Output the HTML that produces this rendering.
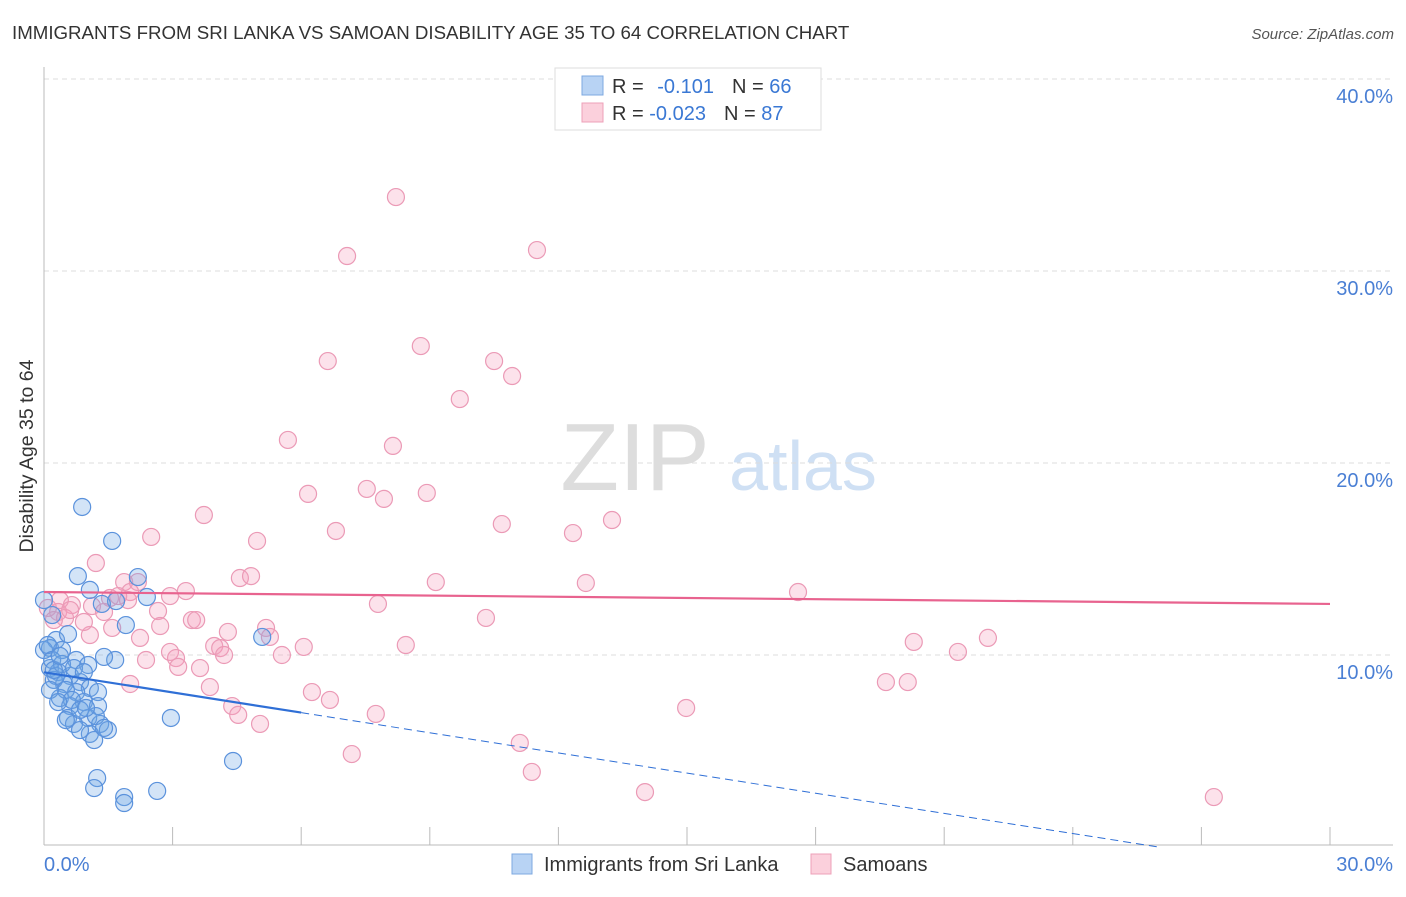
<!DOCTYPE html>
<html><head><meta charset="utf-8"><style>
body{margin:0;background:#fff;font-family:"Liberation Sans",sans-serif}
svg text{font-family:"Liberation Sans",sans-serif}
</style></head><body>
<svg id="chart" width="1406" height="892" xmlns="http://www.w3.org/2000/svg">
<text x="12" y="39" font-size="18.7" fill="#333">IMMIGRANTS FROM SRI LANKA VS SAMOAN DISABILITY AGE 35 TO 64 CORRELATION CHART</text>
<text x="1394" y="39" font-size="15" fill="#555" font-style="italic" text-anchor="end">Source: ZipAtlas.com</text>
<g>
<text x="635" y="490" font-size="96" fill="#ddd" font-family="Liberation Serif,serif" text-anchor="middle">ZIP</text>
<text x="803" y="490" font-size="70" fill="#cfe0f4" text-anchor="middle">atlas</text>
</g>
<g id="grid"></g>
<g id="axes"></g>
<g id="points"></g>
<g id="lines"></g>
<text transform="translate(33,456) rotate(-90)" font-size="19.5" fill="#333" text-anchor="middle">Disability Age 35 to 64</text>
<g>
<rect x="555" y="68" width="266" height="62" fill="#fff" stroke="#ddd"/>
<rect x="582" y="76" width="21" height="19" fill="#b8d3f4" stroke="#7ea8e0"/>
<rect x="582" y="103" width="21" height="19" fill="#fbd0dc" stroke="#eea0b8"/>
<text x="612" y="93" font-size="20" fill="#333">R = <tspan fill="#3a78d4" dx="8">-0.101</tspan><tspan fill="#333" dx="18">N = </tspan><tspan fill="#3a78d4">66</tspan></text>
<text x="612" y="120" font-size="20" fill="#333">R = <tspan fill="#3a78d4">-0.023</tspan><tspan fill="#333" dx="18">N = </tspan><tspan fill="#3a78d4">87</tspan></text>
</g>
<g>
<rect x="512" y="854" width="20" height="20" fill="#b8d3f4" stroke="#7ea8e0"/>
<text x="544" y="871" font-size="20" fill="#333">Immigrants from Sri Lanka</text>
<rect x="811" y="854" width="20" height="20" fill="#fbd0dc" stroke="#eea0b8"/>
<text x="843" y="871" font-size="20" fill="#333">Samoans</text>
</g>
</svg>
<script>
const blueX=[0.89,1.59,0.79,2.19,1.07,2.40,1.68,1.35,1.91,5.09,0.19,0.28,0.56,0.14,0.42,0.75,1.03,1.66,1.40,0.14,0.33,0.61,0.23,0.47,0.84,1.07,1.26,0.75,0.37,0.93,1.26,0.61,0.56,1.03,0.70,1.31,1.49,1.07,1.17,2.96,4.41,1.24,1.17,1.87,1.87,2.64,0.0,0.0,0.09,0.19,0.51,0.65,0.84,0.28,0.42,0.70,1.21,0.23,0.37,0.93,0.51,1.40,0.84,0.98,0.14,0.33];
const blueY=[17.71,15.94,14.11,14.06,13.39,13.02,12.81,12.66,11.56,10.94,12.08,10.78,11.09,10.36,10.26,9.74,9.48,9.74,9.90,9.32,9.11,8.91,8.70,8.49,8.59,8.28,8.07,8.07,7.76,7.55,7.34,7.34,6.72,6.72,6.41,6.41,6.09,5.89,5.57,6.72,4.48,3.59,3.07,2.60,2.29,2.92,12.86,10.26,10.52,9.74,8.18,7.66,7.14,8.91,9.53,9.32,6.82,9.22,9.95,9.11,6.61,6.20,6.09,7.24,8.18,7.55];
const pinkX=[8.21,7.07,11.50,8.79,6.62,10.50,10.92,9.70,5.69,8.14,6.16,7.53,7.93,8.93,3.73,10.68,6.81,12.34,13.25,2.50,4.97,1.21,4.57,4.83,1.87,2.19,3.31,9.14,12.64,17.59,1.54,2.01,2.94,0.65,1.12,1.96,0.33,0.49,7.79,2.66,3.45,3.55,10.31,2.71,1.07,4.29,5.18,5.27,3.97,4.11,8.44,6.06,4.20,5.55,2.94,2.38,3.08,3.13,3.64,20.29,22.02,21.32,2.01,3.87,6.25,6.67,19.64,20.15,4.39,4.53,7.74,14.98,5.04,7.18,11.10,11.38,14.02,27.29,0.09,0.23,0.37,0.61,0.93,1.59,2.24,1.40,1.73];
const pinkY=[33.85,30.78,31.09,26.09,25.31,25.31,24.53,23.33,21.20,20.89,18.39,18.65,18.13,18.44,17.29,16.82,16.46,16.35,17.03,16.15,15.94,14.79,14.01,14.11,13.80,13.80,13.33,13.80,13.75,13.28,12.97,13.28,13.07,12.60,12.55,12.86,12.24,11.93,12.66,12.29,11.82,11.82,11.93,11.51,11.04,11.20,11.41,10.94,10.47,10.36,10.52,10.42,10.0,10.0,10.16,9.74,9.84,9.38,9.32,10.68,10.89,10.16,8.49,8.33,8.07,7.66,8.59,8.59,7.34,6.88,6.93,7.24,6.41,4.84,5.42,3.91,2.86,2.60,12.45,11.82,12.86,12.34,11.72,11.41,10.89,12.24,13.07];
const yTicks=[10,20,30,40];
const yTickLabels=["10.0%","20.0%","30.0%","40.0%"];
const blueTrend=[9.1,-0.35];   // intercept, slope per %
const pinkTrend=[13.28,-0.0207];
const NS="http://www.w3.org/2000/svg";
const X0=44,X1=1330,Y0=847,PXY=19.2;
const sx=v=>X0+v*(X1-X0)/30, sy=v=>Y0-v*PXY;
function mk(tag,attrs,parent){const e=document.createElementNS(NS,tag);for(const k in attrs)e.setAttribute(k,attrs[k]);document.getElementById(parent).appendChild(e);return e;}
yTicks.forEach((t,i)=>{
 const g=mk('line',{x1:X0,x2:1393,y1:sy(t),y2:sy(t),stroke:'#ddd','stroke-dasharray':'5,4'},'grid');
 
 
 const l=mk('text',{x:1393,y:sy(t)+24,'font-size':20,fill:'#4a7fd4','text-anchor':'end'},'grid');
 l.textContent=yTickLabels[i];
 
 
});
let a=mk('line',{x1:X0,x2:X0,y1:67,y2:845,stroke:'#bbb'},'axes');


a=mk('line',{x1:X0,x2:1393,y1:845,y2:845,stroke:'#bbb'},'axes');


for(let i=0;i<=10;i++){const t=mk('line',{x1:sx(i*3),x2:sx(i*3),y1:827,y2:845,stroke:'#bbb'},'axes');
 
 }
let xl=mk('text',{x:44,y:871,'font-size':20,fill:'#4a7fd4'},'axes');xl.textContent='0.0%';


xl=mk('text',{x:1393,y:871,'font-size':20,fill:'#4a7fd4','text-anchor':'end'},'axes');xl.textContent='30.0%';


pinkX.forEach((v,i)=>{const c=mk('circle',{cx:sx(v),cy:sy(pinkY[i]),r:8.5,fill:'rgba(244,160,190,0.3)',stroke:'#eb9ab6','stroke-width':1.2},'points');
 
 });
blueX.forEach((v,i)=>{const c=mk('circle',{cx:sx(v),cy:sy(blueY[i]),r:8.5,fill:'rgba(110,165,230,0.3)',stroke:'#5b92dc','stroke-width':1.2},'points');
 
 });
let ln=mk('line',{x1:sx(0),y1:sy(pinkTrend[0]),x2:sx(30),y2:sy(pinkTrend[0]+pinkTrend[1]*30),stroke:'#e8638f','stroke-width':2.2},'lines');


const bf=x=>blueTrend[0]+blueTrend[1]*x;
const xEnd=Math.min(30,-blueTrend[0]/blueTrend[1]);
ln=mk('line',{x1:sx(0),y1:sy(bf(0)),x2:sx(6),y2:sy(bf(6)),stroke:'#2f6fd6','stroke-width':2.2},'lines');


ln=mk('line',{x1:sx(6),y1:sy(bf(6)),x2:sx(xEnd),y2:sy(bf(xEnd)),stroke:'#2f6fd6','stroke-width':1,'stroke-dasharray':'8,5'},'lines');


</script>
</body></html>
